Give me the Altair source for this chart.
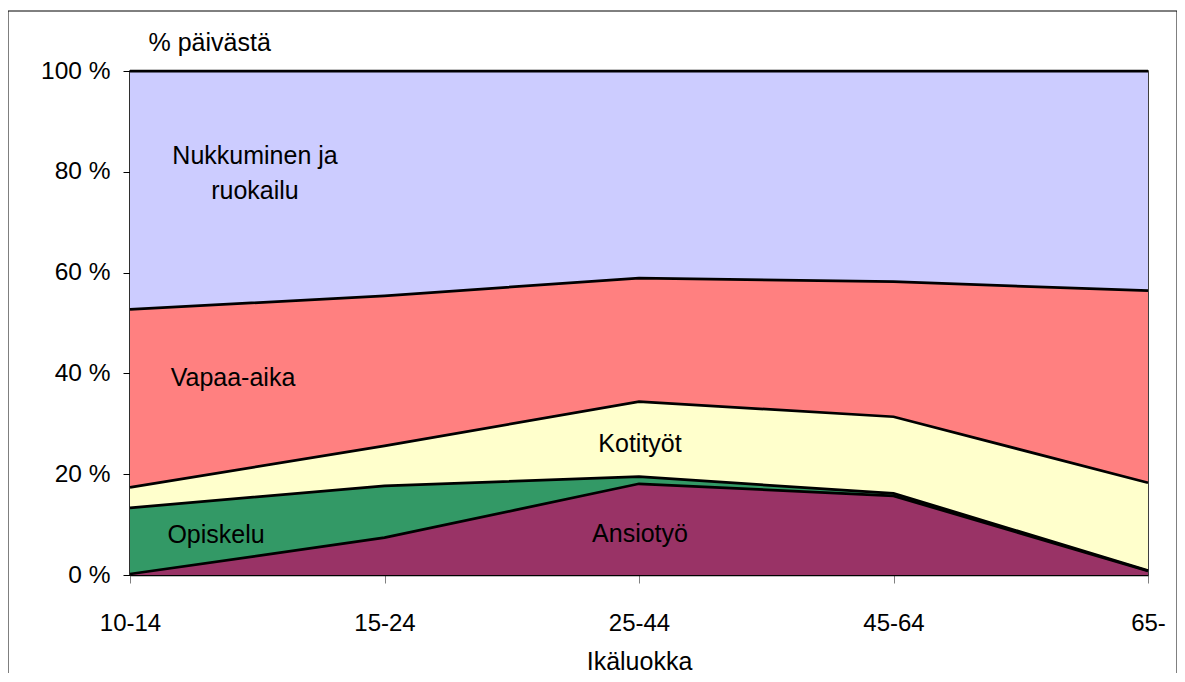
import altair as alt
import pandas as pd

ages = ["10-14", "15-24", "25-44", "45-64", "65-"]
series = ["Ansiotyö", "Opiskelu", "Kotityöt", "Vapaa-aika", "Nukkuminen ja ruokailu"]
ansiotyo = [0.2, 7.4, 18.1, 15.7, 0.8]
opiskelu = [13.1, 10.3, 1.4, 0.5, 0.1]
kotityot = [4.1, 7.9, 14.9, 15.2, 17.4]
vapaa = [35.3, 29.8, 24.5, 26.8, 38.1]
nukkuminen = [47.3, 44.6, 41.1, 41.8, 43.6]
colors = ["#993366", "#339966", "#FFFFCC", "#FF8080", "#CCCCFF"]
y_ticks = [0, 20, 40, 60, 80, 100]

values = [ansiotyo, opiskelu, kotityot, vapaa, nukkuminen]
rows = []
for si, (name, vals) in enumerate(zip(series, values)):
    for ai, age in enumerate(ages):
        cum = sum(values[k][ai] for k in range(si + 1))
        rows.append({"Age": age, "Series": name, "value": vals[ai], "cum": cum, "ord": si})
df = pd.DataFrame(rows)

FONT = "Liberation Sans"

x_enc = alt.X("Age:N", sort=ages, scale=alt.Scale(type="point", padding=0),
              axis=alt.Axis(title="Ikäluokka", labelAngle=0, tickColor="#808080",
                            tickSize=8, labelPadding=28, titlePadding=14,
                            labelFontSize=24, titleFontSize=25,
                            domainColor="black", domainWidth=1.5))

area = alt.Chart(df).mark_area(opacity=1).encode(
    x=x_enc,
    y=alt.Y("value:Q", stack="zero", scale=alt.Scale(domain=[0, 100], nice=False),
            axis=alt.Axis(values=y_ticks, labelExpr="datum.value + ' %'",
                          title="% päivästä", titleAngle=0, titleAlign="left",
                          titleBaseline="alphabetic", titleX=18, titleY=-21,
                          labelFontSize=24.5, titleFontSize=25,
                          tickSize=7, tickColor="black", labelPadding=13,
                          domainColor="black", domainWidth=1.5, grid=False)),
    color=alt.Color("Series:N", scale=alt.Scale(domain=series, range=colors), legend=None),
    order=alt.Order("ord:Q"),
)

lines = alt.Chart(df).mark_line(color="black", strokeWidth=2.75).encode(
    x=alt.X("Age:N", sort=ages),
    y=alt.Y("cum:Q"),
    detail="Series:N",
)

def label(text, px, py):
    return alt.Chart(pd.DataFrame({"t": [text]})).mark_text(
        font=FONT, fontSize=25, color="black", align="center", baseline="alphabetic",
        lineBreak="\n", lineHeight=35,
    ).encode(text="t:N", x=alt.value(px), y=alt.value(py))

labels = [
    label("Nukkuminen ja\nruokailu", 125, 93),
    label("Vapaa-aika", 103, 315),
    label("Kotityöt", 510, 381),
    label("Opiskelu", 86, 472),
    label("Ansiotyö", 510, 471),
]

frame = alt.Chart(pd.DataFrame({"a": [0]})).mark_rect(
    fill=None, stroke="black", strokeWidth=1, clip=False
).encode(x=alt.value(-122), x2=alt.value(1047), y=alt.value(-60), y2=alt.value(700))

chart = alt.layer(area, lines, *labels, frame).properties(
    width=1018, height=504,
    autosize=alt.AutoSizeParams(type="none"),
    padding={"left": 122, "top": 63, "right": 29, "bottom": 98},
).configure(background="white").configure_view(
    stroke="black", strokeWidth=1.5
).configure_axis(
    labelFont=FONT, titleFont=FONT,
    titleFontWeight="normal", labelColor="black", titleColor="black",
)

chart.save("out.html", embed_options={"renderer": "svg", "actions": False})
